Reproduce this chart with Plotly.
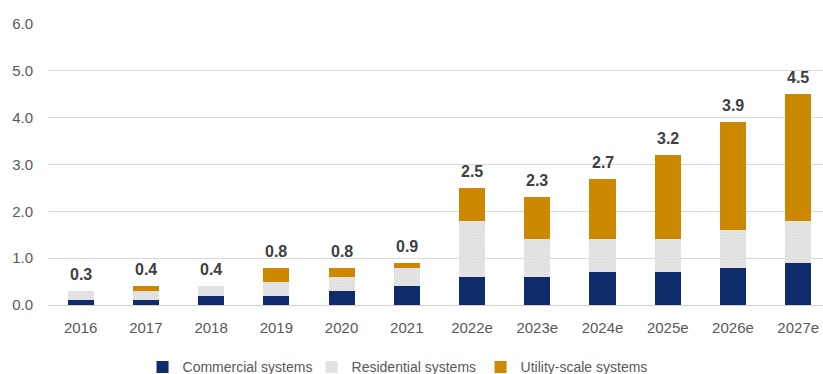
import plotly.graph_objects as go

years = ["2016", "2017", "2018", "2019", "2020", "2021",
         "2022e", "2023e", "2024e", "2025e", "2026e", "2027e"]
commercial = [0.1, 0.1, 0.2, 0.2, 0.3, 0.4, 0.6, 0.6, 0.7, 0.7, 0.8, 0.9]
residential = [0.2, 0.2, 0.2, 0.3, 0.3, 0.4, 1.2, 0.8, 0.7, 0.7, 0.8, 0.9]
utility = [0.0, 0.1, 0.0, 0.3, 0.2, 0.1, 0.7, 0.9, 1.3, 1.8, 2.3, 2.7]
totals = [0.3, 0.4, 0.4, 0.8, 0.8, 0.9, 2.5, 2.3, 2.7, 3.2, 3.9, 4.5]
y_ticks = [0, 1, 2, 3, 4, 5, 6]

NAVY = "#0E2B6B"
GRAY = "#E3E3E3"
ORANGE = "#CC8800"

fig = go.Figure()
fig.add_trace(go.Bar(x=years, y=commercial, name="Commercial systems",
                     marker=dict(color=NAVY, line=dict(width=0))))
fig.add_trace(go.Bar(x=years, y=residential, name="Residential systems",
                     marker=dict(color=GRAY, line=dict(width=0),
                                 pattern=dict(shape=".", fgcolor="#D4D4D4",
                                              bgcolor=GRAY, size=3, solidity=0.25))))
fig.add_trace(go.Bar(x=years, y=utility, name="Utility-scale systems",
                     marker=dict(color=ORANGE, line=dict(width=0))))

for i, t in enumerate(totals):
    fig.add_annotation(x=i, y=t, text=f"{t:.1f}", showarrow=False,
                       xref="x", yref="y",
                       yanchor="bottom", yshift=6,
                       font=dict(family="Liberation Sans, Arial, sans-serif",
                                 size=16, color="#404040", weight="bold"))

fig.update_layout(
    width=823, height=374,
    margin=dict(l=48, r=0, t=24, b=69, autoexpand=False),
    paper_bgcolor="white", plot_bgcolor="white",
    barmode="stack", bargap=0.6,
    font=dict(family="Liberation Sans, Arial, sans-serif", color="#595959", size=15),
    legend=dict(orientation="h", x=0.122, xanchor="left", y=-0.222, yanchor="middle",
                font=dict(size=14, color="#595959"),
                entrywidth=124, entrywidthmode="pixels",
                traceorder="normal"),
    xaxis=dict(range=[-0.5, 11.38], showgrid=False, showline=False, ticks="",
               ticklabelstandoff=12, tickfont=dict(size=15)),
    yaxis=dict(range=[0, 6], tickvals=y_ticks, tickformat=".1f",
               showgrid=True, gridcolor="#D9D9D9", gridwidth=1,
               zeroline=True, zerolinecolor="#D0D0D0", zerolinewidth=1,
               showline=False, ticks="", ticklabelstandoff=14,
               tickfont=dict(size=15)),
)

fig.write_html("out.html")
